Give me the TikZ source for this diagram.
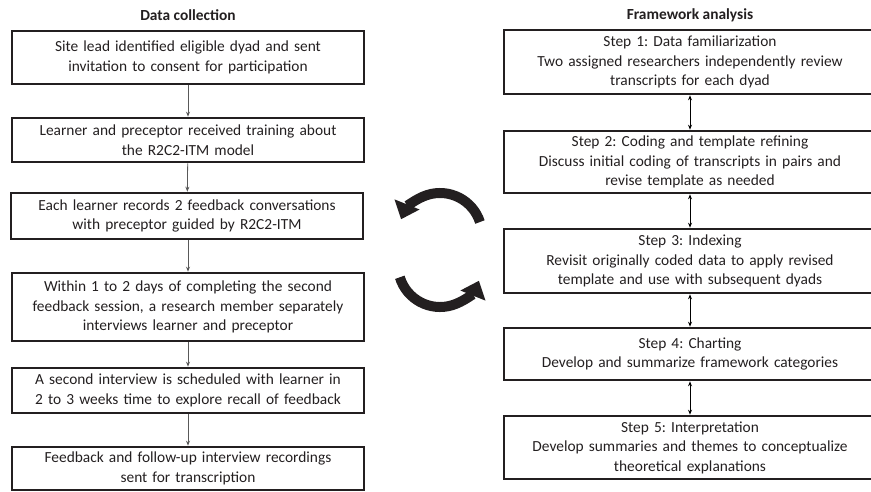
\documentclass[tikz,border=0pt]{standalone}
\usepackage{fontspec}
\setmainfont{Carlito}
\frenchspacing
\usetikzlibrary{arrows.meta}
\definecolor{inkgray}{HTML}{231F20}
\begin{document}
\begin{tikzpicture}[x=1pt,y=-1pt,font=\fontsize{15.4}{19.5}\selectfont,text=inkgray,
    collectbox/.style={draw=inkgray, line width=2.6pt, align=center, inner sep=0pt, text width=346pt, minimum width=352pt},
    stepbox/.style={draw=inkgray, line width=2.6pt, align=center, inner sep=0pt, text width=366pt, minimum width=372pt},
    flow/.style={-{Stealth[length=5pt,width=4pt]}, line width=0.8pt, draw=black!65},
    link/.style={{Stealth[length=5pt,width=4pt]}-{Stealth[length=5pt,width=4pt]}, line width=0.8pt, draw=black},
    cycle/.style={line width=10pt, draw=inkgray, -{Triangle[length=16pt,width=26pt]}}]
    \path[use as bounding box, clip] (0,0) rectangle (871,491);

    % Data collection
    \node[font=\fontsize{15.4}{19.5}\selectfont\bfseries] (colltitle) at (188,15) {Data collection};
    \node[collectbox, minimum height=53pt] (invite) at (188,57.5) {Site lead identified eligible dyad and sent\\invitation to consent for participation};
    \node[collectbox, minimum height=44pt] (training) at (188,140) {Learner and preceptor received training about\\the R2C2-ITM model};
    \node[collectbox, minimum height=46pt] (record) at (187,216) {Each learner records 2 feedback conversations\\with preceptor guided by R2C2-ITM};
    \node[collectbox, minimum height=68pt] (interview) at (188,307) {Within 1 to 2 days of completing the second\\feedback session, a research member separately\\interviews learner and preceptor};
    \node[collectbox, minimum height=45pt] (second) at (188,390.5) {A second interview is scheduled with learner in\\2 to 3 weeks time to explore recall of feedback};
    \node[collectbox, minimum height=43pt] (transcribe) at (188,468.5) {Feedback and follow-up interview recordings\\sent for transcription};

    \draw[flow] (invite) -- (training);
    \draw[flow] (training) -- (record);
    \draw[flow] (record.south -| training.south) -- (interview);
    \draw[flow] (interview) -- (second);
    \draw[flow] (second) -- (transcribe);

    % Framework analysis
    \node[font=\fontsize{15.4}{19.5}\selectfont\bfseries] (frametitle) at (690,15) {Framework analysis};
    \node[stepbox, minimum height=64pt] (familiar) at (690,62) {Step 1: Data familiarization\\Two assigned researchers independently review\\transcripts for each dyad};
    \node[stepbox, minimum height=62pt] (coding) at (690,162) {Step 2: Coding and template refining\\Discuss initial coding of transcripts in pairs and\\revise template as needed};
    \node[stepbox, minimum height=64pt] (indexing) at (690,261) {Step 3: Indexing\\Revisit originally coded data to apply revised\\template and use with subsequent dyads};
    \node[stepbox, minimum height=52pt] (charting) at (690,354) {Step 4: Charting\\Develop and summarize framework categories};
    \node[stepbox, minimum height=63pt] (interpret) at (690,447.5) {Step 5: Interpretation\\Develop summaries and themes to conceptualize\\theoretical explanations};

    \draw[link] (familiar) -- (coding);
    \draw[link] (coding) -- (indexing);
    \draw[link] (indexing) -- (charting);
    \draw[link] (charting) -- (interpret);

    % cycle between the two columns
    \coordinate (upper) at (440,235);
    \coordinate (lower) at (440,265);
    \draw[cycle] ([shift={(-18:42)}]upper) arc[start angle=-18, end angle=-158, radius=42];
    \draw[cycle] ([shift={(163:42)}]lower) arc[start angle=163, end angle=22, radius=42];
\end{tikzpicture}
\end{document}
